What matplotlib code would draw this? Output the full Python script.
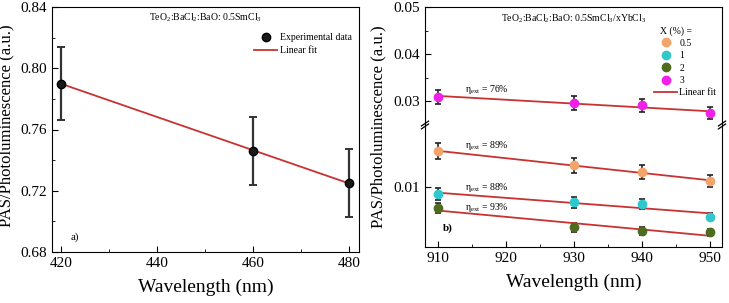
import numpy as np
import matplotlib
matplotlib.use('Agg')
import matplotlib.pyplot as plt
from matplotlib.lines import Line2D

plt.rcParams['font.family'] = ['Liberation Serif', 'DejaVu Serif']
plt.rcParams['mathtext.fontset'] = 'custom'
plt.rcParams['mathtext.rm'] = 'Liberation Serif'
plt.rcParams['mathtext.it'] = 'Liberation Serif:italic'
plt.rcParams['xtick.direction'] = 'in'
plt.rcParams['ytick.direction'] = 'in'

# panel a)
wl_a = [420, 460, 480]
ratio_a = [0.790, 0.746, 0.725]
err_a = [0.024, 0.022, 0.022]

# panel b)
wl_b = [910, 930, 940, 950]
yb_conc = ['0.5', '1', '2', '3']
ratio_05 = [0.0159, 0.0136, 0.0125, 0.0110]
ratio_1 = [0.0089, 0.0075, 0.0072, 0.0052]
ratio_2 = [0.0066, 0.0034, 0.0028, 0.0026]
ratio_3 = [0.0309, 0.0296, 0.0291, 0.0274]
err_05 = [0.0013, 0.0012, 0.0012, 0.0010]
err_1 = [0.0010, 0.0009, 0.0008, 0.0006]
err_2 = [0.0008, 0.0007, 0.0006, 0.0006]
err_3 = [0.0015, 0.0015, 0.0014, 0.0013]
eta_labels = ['89%', '88%', '93%', '76%']
colors_b = ['#f4a46a', '#30c8cc', '#4e6b1e', '#f020e8']

fit_red = '#c83232'
W, H = 729, 303
fig = plt.figure(figsize=(W / 100, H / 100), dpi=100)


def box(l, t, r, b):
    return [l / W, (H - b) / H, (r - l) / W, (b - t) / H]


# ---------------- panel a
ax = fig.add_axes(box(52, 7, 359, 252))
ax.errorbar(wl_a, ratio_a, yerr=err_a, fmt='none', ecolor='#333333',
            elinewidth=1.6, capsize=3, capthick=1.4, zorder=2)
p = np.polyfit(wl_a, ratio_a, 1)
xx = np.array([wl_a[0], wl_a[-1]])
ax.plot(xx, np.polyval(p, xx), color=fit_red, lw=1.3, label='Linear fit', zorder=3)
ax.plot(wl_a, ratio_a, 'o', ms=6, color='#1a1a1a', mec='#000000',
        label='Experimental data', zorder=4)
ax.set_xlim(418.1, 482)
ax.set_ylim(0.68, 0.84)
ax.set_xticks([420, 440, 460, 480])
ax.set_xticks([430, 450, 470], minor=True)
ax.set_yticks([0.68, 0.72, 0.76, 0.80, 0.84])
ax.set_yticks([0.70, 0.74, 0.78, 0.82], minor=True)
ax.set_yticklabels(['0.68', '0.72', '0.76', '0.80', '0.84'])
ax.tick_params(labelsize=11, length=4, top=False, right=False)
ax.tick_params(which='minor', length=2.5)
ax.set_xlabel('Wavelength (nm)', fontsize=14, labelpad=6)
ax.set_ylabel('PAS/Photoluminescence (a.u.)', fontsize=12)
ax.yaxis.set_label_coords(-0.122, 0.515)
ax.text(0.5, 0.955, 'TeO$_2$:BaCl$_2$:BaO: 0.5SmCl$_3$', transform=ax.transAxes,
        ha='center', va='center', fontsize=7)
ax.text(0.06, 0.05, 'a)', transform=ax.transAxes, fontsize=8)
h, l = ax.get_legend_handles_labels()
ax.legend(h[::-1], l[::-1], loc='upper right', bbox_to_anchor=(1.0, 0.92),
          frameon=False, fontsize=7, handlelength=2.4, handletextpad=0.3,
          borderaxespad=0.3, labelspacing=0.4)

# ---------------- panel b (broken axis)
ax_up = fig.add_axes(box(425, 7, 722, 125))
ax_lo = fig.add_axes(box(425, 125, 722, 247), sharex=ax_up)

series = [ratio_05, ratio_1, ratio_2, ratio_3]
errs = [err_05, err_1, err_2, err_3]
xb = np.array([wl_b[0], wl_b[-1]])
pt_handles = []
for a in (ax_up, ax_lo):
    for ys, es, c, lab in zip(series, errs, colors_b, yb_conc):
        a.errorbar(wl_b, ys, yerr=es, fmt='none', ecolor='#222222',
                   elinewidth=1.2, capsize=2.5, capthick=1.2, zorder=2)
        pb = np.polyfit(wl_b, ys, 1)
        a.plot(xb, np.polyval(pb, xb), color=fit_red, lw=1.3, zorder=3)
        pt, = a.plot(wl_b, ys, 'o', ms=6, color=c, mec=c, zorder=4, label=lab)
        if a is ax_up:
            pt_handles.append(pt)

ax_up.set_ylim(0.0249, 0.05)
ax_lo.set_ylim(0.0002, 0.0202)
ax_up.set_xlim(908.1, 951.8)
ax_up.set_yticks([0.03, 0.04, 0.05])
ax_up.set_yticklabels(['0.03', '0.04', '0.05'])
ax_up.set_yticks([0.035, 0.045], minor=True)
ax_lo.set_yticks([0.01])
ax_lo.set_yticklabels(['0.01'])
ax_lo.set_xticks([910, 920, 930, 940, 950])
ax_lo.set_xticks([915, 925, 935, 945], minor=True)
ax_up.spines['bottom'].set_visible(False)
ax_lo.spines['top'].set_visible(False)
ax_up.tick_params(axis='x', which='both', bottom=False, labelbottom=False)
for a in (ax_up, ax_lo):
    a.tick_params(labelsize=11, length=4, top=False, right=False)
    a.tick_params(which='minor', length=2.5)
ax_lo.set_xlabel('Wavelength (nm)', fontsize=14, labelpad=6)
fig.text(378 / W, (H - 127) / H, 'PAS/Photoluminescence (a.u.)', rotation=90,
         ha='center', va='center', fontsize=12)

# break marks
for xpos in (0, 1):
    for dy in (-0.012, 0.012):
        ax_lo.plot([xpos - 0.012, xpos + 0.012], [1 + dy - 0.02, 1 + dy + 0.02],
                   transform=ax_lo.transAxes, color='k', lw=0.9, clip_on=False)

ax_up.text(0.5, 0.9, 'TeO$_2$:BaCl$_2$:BaO: 0.5SmCl$_3$/xYbCl$_3$',
           transform=ax_up.transAxes, ha='center', va='center', fontsize=7)

# eta labels
eta_pos_lo = [(0.135, 0.83), (0.135, 0.49), (0.135, 0.32)]
for (xf, yf), t in zip(eta_pos_lo, eta_labels[:3]):
    ax_lo.text(xf, yf, 'η$_{\\rm ext}$ = ' + t, transform=ax_lo.transAxes,
               fontsize=7, va='center')
ax_up.text(0.135, 0.305, 'η$_{\\rm ext}$ = ' + eta_labels[3], transform=ax_up.transAxes,
           fontsize=7, va='center')
ax_lo.text(0.06, 0.13, 'b)', transform=ax_lo.transAxes, fontsize=8, fontweight='bold')

# legend
fig.text(660 / W, (H - 31) / H, 'X (%) =', fontsize=7, va='center', ha='left')
fit_h = Line2D([], [], color=fit_red, lw=1.3)
ax_up.legend(pt_handles + [fit_h], yb_conc + ['Linear fit'],
             loc='upper right', bbox_to_anchor=(1.0, 0.78), frameon=False,
             fontsize=7, handlelength=2.4, handletextpad=0.2, labelspacing=0.35,
             borderaxespad=0.2)

fig.savefig('out.png', dpi=100)
